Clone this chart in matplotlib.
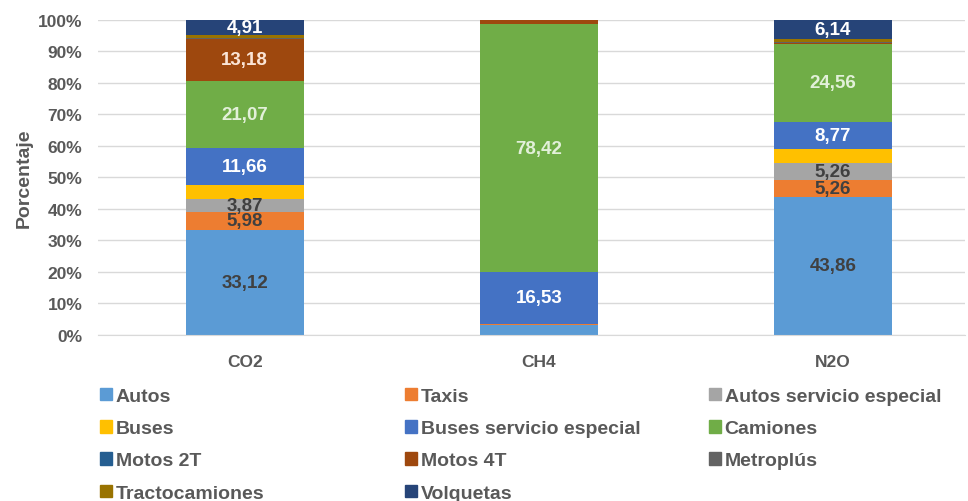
import numpy as np
import matplotlib.pyplot as plt
from matplotlib.patches import Patch

plt.rcParams['font.family'] = ['Liberation Sans', 'DejaVu Sans']

# Porcentaje de emisiones por tipo de vehiculo
gases = ['CO2', 'CH4', 'N2O']
series_names = ['Autos', 'Taxis', 'Autos servicio especial', 'Buses',
                'Buses servicio especial', 'Camiones', 'Motos 2T', 'Motos 4T',
                'Metroplús', 'Tractocamiones', 'Volquetas']

autos = [33.12, 3.2, 43.86]
taxis = [5.98, 0.1, 5.26]
autos_se = [3.87, 0.15, 5.26]
buses = [4.7, 0.05, 4.5]
buses_se = [11.66, 16.53, 8.77]
camiones = [21.07, 78.42, 24.56]
motos_2t = [0.2, 0.0, 0.1]
motos_4t = [13.18, 1.4, 0.3]
metroplus = [0.3, 0.0, 0.4]
tractocamiones = [1.0, 0.15, 0.8]
volquetas = [4.91, 0.0, 6.14]

values = [autos, taxis, autos_se, buses, buses_se, camiones,
          motos_2t, motos_4t, metroplus, tractocamiones, volquetas]

colors = ['#5B9BD5', '#ED7D31', '#A5A5A5', '#FFC000', '#4472C4', '#70AD47',
          '#255E91', '#9E480E', '#636363', '#997300', '#264478']
label_colors = ['#404040', '#404040', '#404040', None, 'white', '#E2F0D9',
                None, '#FBE5D6', None, None, 'white']

gray = '#595959'

fig = plt.figure(figsize=(9.68, 5.02), dpi=100)
ax = fig.add_axes([0.101, 0.331, 0.896, 0.628])

x = np.arange(len(gases))
bottom = np.zeros(len(gases))
for name, vals, col, lc in zip(series_names, values, colors, label_colors):
    vals = np.array(vals)
    b = ax.bar(x, vals, 0.40, bottom=bottom, color=col, label=name, zorder=2)
    if lc is not None:
        labels = [f'{v:.2f}'.replace('.', ',') if v > 3.5 else '' for v in vals]
        ax.bar_label(b, labels=labels, label_type='center', color=lc,
                     fontsize=13.5, fontweight='bold')
    bottom += vals

ax.set_ylim(0, 100)
ax.set_xlim(-0.5, 2.45)
ax.set_yticks(np.arange(0, 101, 10))
ax.set_yticklabels([f'{t}%' for t in range(0, 101, 10)])
ax.set_xticks(x)
ax.set_xticklabels(gases)
ax.tick_params(axis='y', length=0, labelsize=12.5, labelcolor=gray, pad=11)
ax.tick_params(axis='x', length=0, labelsize=12.5, labelcolor=gray, pad=14)
for lab in ax.get_xticklabels() + ax.get_yticklabels():
    lab.set_fontweight('bold')
ax.yaxis.grid(True, color='#D9D9D9', linewidth=1, zorder=0)
ax.set_axisbelow(True)
for s in ['top', 'right', 'left']:
    ax.spines[s].set_visible(False)
ax.spines['bottom'].set_color('#D9D9D9')
ax.set_ylabel('Porcentaje', fontsize=14, fontweight='bold', color=gray, labelpad=4)

# legend in three columns, filled row by row
handles = [Patch(color=c) for c in colors]
columns = [[0, 3, 6, 9], [1, 4, 7, 10], [2, 5, 8]]
col_x = [100 / 968, 405 / 968, 709 / 968]
for cx, idx in zip(col_x, columns):
    leg = fig.legend([handles[i] for i in idx], [series_names[i] for i in idx],
                     loc='upper left', bbox_to_anchor=(cx, 1 - 389 / 502),
                     frameon=False, fontsize=14, handlelength=0.6,
                     handleheight=0.6, handletextpad=0.2, labelspacing=0.78,
                     borderaxespad=0, borderpad=0)
    for t in leg.get_texts():
        t.set_color(gray)
        t.set_fontweight('bold')

fig.savefig('out.png', dpi=100)
